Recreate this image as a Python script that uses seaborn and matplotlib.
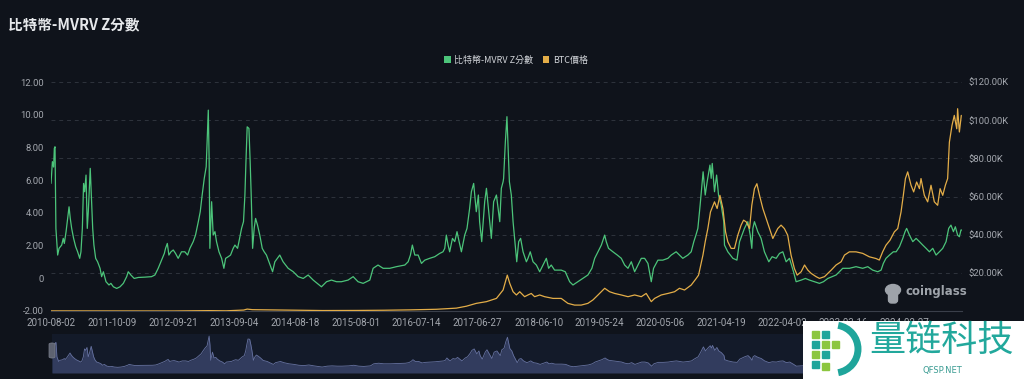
import numpy as np
import pandas as pd
import matplotlib
matplotlib.use("Agg")
import matplotlib.pyplot as plt
import seaborn as sns
from matplotlib.patches import Patch, Rectangle, FancyBboxPatch, Arc, Ellipse

# ---------------- data ----------------
title = "比特幣-MVRV Z分數"
series_names = ["比特幣-MVRV Z分數", "BTC價格"]
tick_dates = ["2010-08-02", "2011-10-09", "2012-09-21", "2013-09-04", "2014-08-18",
              "2015-08-01", "2016-07-14", "2017-06-27", "2018-06-10", "2019-05-24",
              "2020-05-06", "2021-04-19", "2022-04-02", "2023-03-16", "2024-02-27"]
tick_step = 348  # data points between labelled categories

# MVRV Z-score (day index, value)
z_day = [0, 8, 15, 19, 23, 28, 38, 46, 61, 70, 76, 86, 93, 103, 110, 118, 129, 141, 152, 164,
         171, 179, 186, 192, 200, 207, 213, 224, 230, 238, 245, 255, 266, 280, 289, 299, 314, 331,
         342, 356, 375, 394, 413, 432, 441, 456, 475, 498, 536, 574, 593, 612, 631, 647, 654, 664,
         673, 685, 698, 711, 726, 745, 764, 780, 793, 812, 825, 841, 852, 863, 875, 886, 892, 898,
         903, 907, 913, 917, 926, 936, 945, 959, 974, 987, 997, 1012, 1025, 1040, 1050, 1065, 1073,
         1088, 1099, 1107, 1113, 1120, 1130, 1137, 1143, 1151, 1160, 1168, 1179, 1192, 1206, 1217,
         1230, 1244,
         1265, 1278, 1306, 1325, 1354, 1383, 1411, 1440, 1468, 1497, 1544, 1573, 1601, 1630, 1658,
         1696, 1725, 1753, 1782, 1820, 1839, 1867, 1896, 1934, 1972, 2020, 2039, 2052, 2063, 2077,
         2096, 2115, 2134, 2162, 2191, 2219, 2238, 2248, 2257, 2267, 2276, 2292, 2305, 2318, 2330,
         2343, 2362, 2375, 2390, 2400, 2413, 2428, 2440, 2447, 2459, 2476, 2486, 2499, 2514, 2527,
         2543, 2562, 2571, 2581,
         2584, 2594, 2603, 2609, 2617, 2628, 2638, 2647, 2659, 2670, 2681, 2695, 2714, 2723, 2736,
         2752, 2771, 2790, 2809, 2828, 2841, 2856, 2875, 2913, 2936, 2961, 2980, 3008, 3037, 3065,
         3088, 3104, 3123, 3142, 3161, 3170, 3183, 3208, 3233, 3256, 3275, 3294, 3313, 3332, 3351,
         3370, 3389, 3408, 3427, 3440, 3465, 3493, 3522, 3541, 3569, 3588, 3607, 3636, 3655, 3670,
         3682, 3693, 3706, 3723, 3735, 3746, 3762, 3769, 3775, 3788, 3800, 3811, 3826, 3841,
         3845, 3864, 3893, 3916, 3931, 3959, 3978, 3992, 4001, 4007, 4016, 4035, 4054, 4073, 4098,
         4117, 4140, 4159, 4178, 4197, 4216, 4239, 4254, 4283, 4307, 4330, 4359, 4387, 4410, 4435,
         4459, 4482, 4501, 4520, 4558, 4596, 4634, 4663, 4691, 4720, 4739, 4752, 4767, 4787, 4809,
         4825, 4844, 4863, 4876, 4885, 4901, 4920, 4939, 4958, 4977, 4996, 5015, 5034, 5053, 5072,
         5091, 5110, 5125, 5138, 5152, 5163, 5176, 5186, 5195, 5201]
z_val = [5.80, 7.13, 6.80, 7.94, 8.04, 3.05, 1.42, 1.83, 2.03, 2.44, 2.13, 2.85, 3.46, 4.37, 3.66,
         3.05, 2.44, 1.93, 1.62, 1.22, 1.62, 3.05, 5.80, 5.29, 6.31, 3.05, 4.07, 6.72, 5.09, 3.05,
         2.03, 1.22, 1.01, 0.61, 0.10, 0.40, -0.21, -0.41, -0.31, -0.52, -0.62, -0.52, -0.31, 0.10,
         0.40, 0.20, -0.01, 0.05, 0.07, 0.10, 0.20, 0.61, 1.11, 1.52, 1.83, 2.13, 1.42, 1.62, 1.73,
         1.52, 1.22, 1.62, 1.62, 1.42, 1.83, 2.24, 2.64, 3.46, 4.07, 5.09, 6.11, 6.82, 8.55, 10.28,
         7.13, 1.83, 3.46, 4.68, 2.64, 2.85, 2.24, 1.62, 1.22, 0.61, 1.22, 1.32, 1.42, 1.83, 2.03,
         1.83, 2.24, 3.05, 3.46, 5.09, 7.13, 9.26, 9.16, 7.13, 5.09, 1.83, 3.05, 3.66, 3.25, 2.64,
         1.83, 1.62, 1.42, 1.01,
         0.40, 1.01, 1.42, 1.01, 0.61, 0.40, 0.10, -0.01, 0.20, -0.11, -0.52, -0.21, -0.11, -0.21,
         -0.21, -0.11, 0.10, -0.21, -0.31, -0.11, 0.61, 0.81, 0.61, 0.61, 0.71, 0.81, 1.01, 1.42,
         2.03, 1.42, 1.42, 0.91, 1.11, 1.22, 1.32, 1.52, 1.62, 1.83, 2.64, 2.03, 1.62, 2.44, 2.24,
         2.85, 2.24, 1.62, 2.64, 3.05, 4.27, 5.29, 5.80, 4.07, 5.09, 3.46, 2.24, 4.68, 5.50, 4.07,
         2.44, 4.68, 5.09, 3.46, 5.50, 5.90,
         6.11, 8.35, 9.88, 8.14, 5.90, 5.09, 3.46, 2.44, 1.01, 2.24, 2.44, 1.62, 1.01, 1.22, 1.62,
         1.01, 0.81, 0.40, 0.81, 1.22, 0.61, 0.81, 0.50, 0.50, 0.40, -0.21, -0.41, -0.21, -0.01,
         0.20, 0.61, 1.22, 1.62, 2.03, 2.64, 2.24, 1.83, 1.62, 1.42, 1.22, 0.81, 0.61, 1.01, 0.40,
         0.81, 1.22, 1.22, 0.91, -0.21, 0.61, 1.11, 1.11, 1.22, 1.42, 1.62, 1.42, 1.22, 1.42, 1.62,
         2.24, 2.64, 3.05, 4.48, 6.51, 5.09, 5.90, 6.92, 6.11, 7.02, 5.29, 6.31, 5.09, 4.48, 3.46,
         2.03, 1.62, 1.22, 1.11, 2.24, 3.05, 3.46, 2.64, 1.83, 3.05, 3.46, 2.85, 2.44, 1.62, 1.01,
         1.32, 1.22, 1.52, 1.62, 1.01, 1.22, 0.40, -0.21, -0.11, -0.01, -0.11, -0.21, -0.31, -0.21,
         -0.01, 0.10, 0.20, 0.40, 0.61, 0.61, 0.71, 0.61, 0.71, 0.50, 0.40, 0.50, 0.91, 1.22, 1.42,
         1.62, 1.62, 1.93, 2.44, 2.85, 3.05, 2.64, 2.24, 2.44, 2.24, 2.03, 1.83, 1.62, 1.83, 1.42,
         1.62, 1.83, 2.24, 3.05, 3.25, 2.85, 3.15, 2.64, 2.54, 2.95, 2.95]

# BTC price in thousands of USD (day index, value)
p_day = [0, 330, 700, 900, 1000, 1100, 1120, 1150, 1250, 1400, 1550, 1750, 1900, 2050, 2200,
         2314, 2371, 2428, 2486, 2543, 2581, 2605, 2619, 2638, 2657, 2676, 2704, 2723, 2742, 2761,
         2790, 2818, 2866, 2913, 2951, 2989, 3027, 3065, 3094, 3123, 3161, 3189, 3218, 3256, 3294,
         3332, 3370, 3398, 3427, 3446, 3484, 3522, 3560, 3588, 3617, 3655, 3684, 3697, 3722, 3735,
         3750, 3765, 3788, 3803, 3819, 3836, 3851, 3864, 3883, 3902, 3921, 3940, 3954, 3969, 3988,
         4001, 4016, 4030, 4045, 4064, 4083, 4102, 4121, 4149, 4168, 4187, 4206, 4225, 4244, 4260,
         4283, 4302, 4321, 4340, 4368, 4387, 4416, 4454, 4482, 4511, 4530, 4558, 4596, 4634, 4672,
         4710, 4729, 4748, 4767, 4790, 4815, 4834, 4853, 4866, 4878, 4891, 4910, 4925, 4942, 4958,
         4967, 4986, 5005, 5024, 5043, 5062, 5076, 5091, 5106, 5119, 5129, 5144, 5157, 5171, 5176,
         5186, 5197]
p_val = [0.06, 0.03, 0.01, 0.2, 0.1, 0.5, 1.0, 0.7, 0.6, 0.4, 0.25, 0.3, 0.4, 0.6, 0.9,
         1.5, 2.5, 4.0, 4.9, 6.6, 11.0, 18.8, 14.5, 10.1, 8.4, 10.1, 7.5, 8.4, 9.2, 7.5,
         8.4, 7.5, 6.6, 6.6, 4.0, 3.1, 3.1, 4.0, 5.8, 8.4, 11.9, 10.1, 9.2, 8.4, 7.5,
         8.4, 7.5, 9.2, 4.9, 6.6, 8.4, 9.2, 10.1, 11.9, 11.0, 13.6, 17.1, 18.8, 29.3, 36.3,
         43.2, 51.9, 57.2, 53.7, 60.6, 53.7, 41.5, 36.3, 32.8, 32.8, 39.7, 45.0, 47.6, 46.7, 43.2,
         55.4, 64.1, 66.7, 60.6, 53.7, 48.5, 43.2, 38.0, 43.2, 45.0, 43.2, 39.7, 29.3, 22.3, 18.8,
         20.6, 24.1, 21.4, 19.7, 18.0, 17.1, 18.0, 21.4, 24.1, 25.8, 29.3, 31.0, 31.0, 30.2, 28.4,
         27.5, 26.7, 31.0, 34.5, 37.1, 41.5, 43.2, 51.9, 60.6, 69.4, 72.9, 65.9, 62.4, 67.6, 64.1,
         69.4, 60.6, 57.2, 65.9, 57.2, 55.4, 64.1, 60.6, 65.9, 69.4, 88.5, 97.3, 102.5, 95.5, 106.0,
         93.8, 102.5]

left_ticks = [-2, 0, 2, 4, 6, 8, 10, 12]
right_ticks_k = [0, 20, 40, 60, 80, 100, 120]

# ---------------- style ----------------
BG = "#0f131b"
GREEN = "#4cc47a"
GOLD = "#e3ad48"
GRID = "#2e333d"
TICK = "#a3a7ae"

sns.set_theme(style="dark", rc={"axes.facecolor": BG, "figure.facecolor": BG})
plt.rcParams["font.family"] = ["Noto Sans CJK TC", "DejaVu Sans"]

W, H = 1024, 379
fig = plt.figure(figsize=(W / 100, H / 100), dpi=100)
fig.patch.set_facecolor(BG)

def fx(px):
    return px / W

def fy(py):
    return 1 - py / H

x_left, x_right, y_top, y_bot = 51, 962, 82, 311
ax = fig.add_axes([fx(x_left), fy(y_bot), fx(x_right - x_left), (y_bot - y_top) / H])
ax.set_facecolor(BG)

df_z = pd.DataFrame({"day": z_day, "z": z_val})
df_p = pd.DataFrame({"day": p_day, "price": p_val})

x_max = max(z_day)
ax.set_xlim(0, x_max)
ax.set_ylim(left_ticks[0], left_ticks[-1])

# dashed grid following the right (price) axis
for pk in right_ticks_k[1:]:
    zv = left_ticks[0] + (pk - right_ticks_k[0]) / (right_ticks_k[-1] - right_ticks_k[0]) * (left_ticks[-1] - left_ticks[0])
    ax.axhline(zv, color=GRID, lw=0.7, ls=(0, (4, 4)), zorder=0)

sns.lineplot(data=df_z, x="day", y="z", ax=ax, color=GREEN, lw=0.9,
             estimator=None, sort=False, legend=False)

ax2 = ax.twinx()
sns.lineplot(data=df_p, x="day", y="price", ax=ax2, color=GOLD, lw=0.9,
             estimator=None, sort=False, legend=False)
ax2.set_ylim(right_ticks_k[0], right_ticks_k[-1])
ax2.set_xlim(0, x_max)

tick_font = "Roboto"
ax.set_yticks(left_ticks)
ax.set_yticklabels(["0" if t == 0 else f"{t:.2f}" for t in left_ticks],
                   fontsize=6.8, color=TICK, family=tick_font)
ax2.set_yticks(right_ticks_k)
ax2.set_yticklabels(["" if t == 0 else f"${t:.2f}K" for t in right_ticks_k],
                    fontsize=6.8, color=TICK, family=tick_font)
tick_pos = [i * tick_step for i in range(len(tick_dates))]
ax.set_xticks(tick_pos)
ax.set_xticklabels(tick_dates, fontsize=7, color=TICK, family=tick_font)
ax.tick_params(axis="both", length=0, pad=5)
ax2.tick_params(axis="both", length=0, pad=5)
for a in (ax, ax2):
    a.set_xlabel("")
    a.set_ylabel("")
    a.grid(False)
    for s in a.spines.values():
        s.set_visible(False)
ax.spines["bottom"].set_visible(True)
ax.spines["bottom"].set_color("#3a3f4a")
ax.spines["bottom"].set_linewidth(0.8)

# ---------------- title & legend ----------------
fig.text(fx(8), fy(24), title, fontsize=10.5, fontweight="bold", color="#e6e8eb",
         va="center", ha="left")
handles = [Patch(facecolor=GREEN, edgecolor="none"), Patch(facecolor=GOLD, edgecolor="none")]
leg = fig.legend(handles, series_names, loc="center", bbox_to_anchor=(fx(516), fy(60)),
                 ncol=2, frameon=False, fontsize=6.5, handlelength=0.75, handleheight=0.75,
                 handletextpad=0.4, columnspacing=1.0, labelcolor="#d2d5da")

# ---------------- coinglass watermark ----------------
fig.text(fx(906), fy(292), "coinglass", fontsize=8.5, fontweight="bold", color="#9ea3aa",
         family="DejaVu Sans", va="center", ha="left")
wm = fig.add_axes([fx(884), fy(304), fx(18), 22 / H])
wm.set_xlim(0, 18)
wm.set_ylim(0, 22)
wm.axis("off")
wm.add_patch(Ellipse((9, 14), 15, 11, color="#9ea3aa"))
wm.add_patch(FancyBboxPatch((4.5, 1), 9, 12, boxstyle="round,pad=0,rounding_size=3", color="#9ea3aa"))

# ---------------- data zoom slider ----------------
sx = fig.add_axes([fx(52), fy(373), fx(x_right - 52), 39 / H])
sx.set_facecolor("#131a29")
sns.lineplot(data=df_z, x="day", y="z", ax=sx, color="#6672a0", lw=0.6,
             estimator=None, sort=False, legend=False)
sx.fill_between(z_day, z_val, -2.6, color="#343e62", alpha=0.95, lw=0)
sx.set_xlim(0, x_max)
sx.set_ylim(-2.6, 11)
sx.set_xticks([])
sx.set_yticks([])
sx.set_xlabel("")
sx.set_ylabel("")
for s in sx.spines.values():
    s.set_visible(False)
fig.patches.append(FancyBboxPatch((fx(49), fy(358)), fx(6), 15 / H,
                                  boxstyle="round,pad=0,rounding_size=0.003",
                                  transform=fig.transFigure, facecolor="#5d6270",
                                  edgecolor="#7a7f8c", lw=0.5, zorder=5))

# ---------------- site watermark (bottom right) ----------------
box_top = 321
lg = fig.add_axes([fx(803), 0, fx(W - 803), (H - box_top) / H])
lg.set_xlim(803, W)
lg.set_ylim(H, box_top)
lg.axis("off")
lg.add_patch(Rectangle((803, box_top), W - 803, H - box_top, color="white"))
lg.add_patch(Arc((834, 349), 48, 48, theta1=-80, theta2=80, color="#1fa59b", lw=5))
for (qx, qy, qc) in [(812, 331, "#8cc63f"), (822, 331, "#1fa59b"), (812, 341, "#1fa59b"),
                     (822, 341, "#8cc63f"), (832, 341, "#8cc63f"), (812, 351, "#8cc63f"),
                     (822, 351, "#1fa59b"), (812, 361, "#1fa59b"), (822, 363, "#8cc63f")]:
    lg.add_patch(Rectangle((qx, qy), 7, 7, color=qc))
lg.text(942, 341, "量链科技", fontsize=26, color="#22a89c", ha="center", va="center",
        family=["Noto Sans CJK SC", "DejaVu Sans"])
lg.text(942, 371, "QFSP.NET", fontsize=6, color="#3b9c93", ha="center", va="center",
        family="DejaVu Sans")

fig.savefig("out.png", dpi=100, facecolor=BG)
